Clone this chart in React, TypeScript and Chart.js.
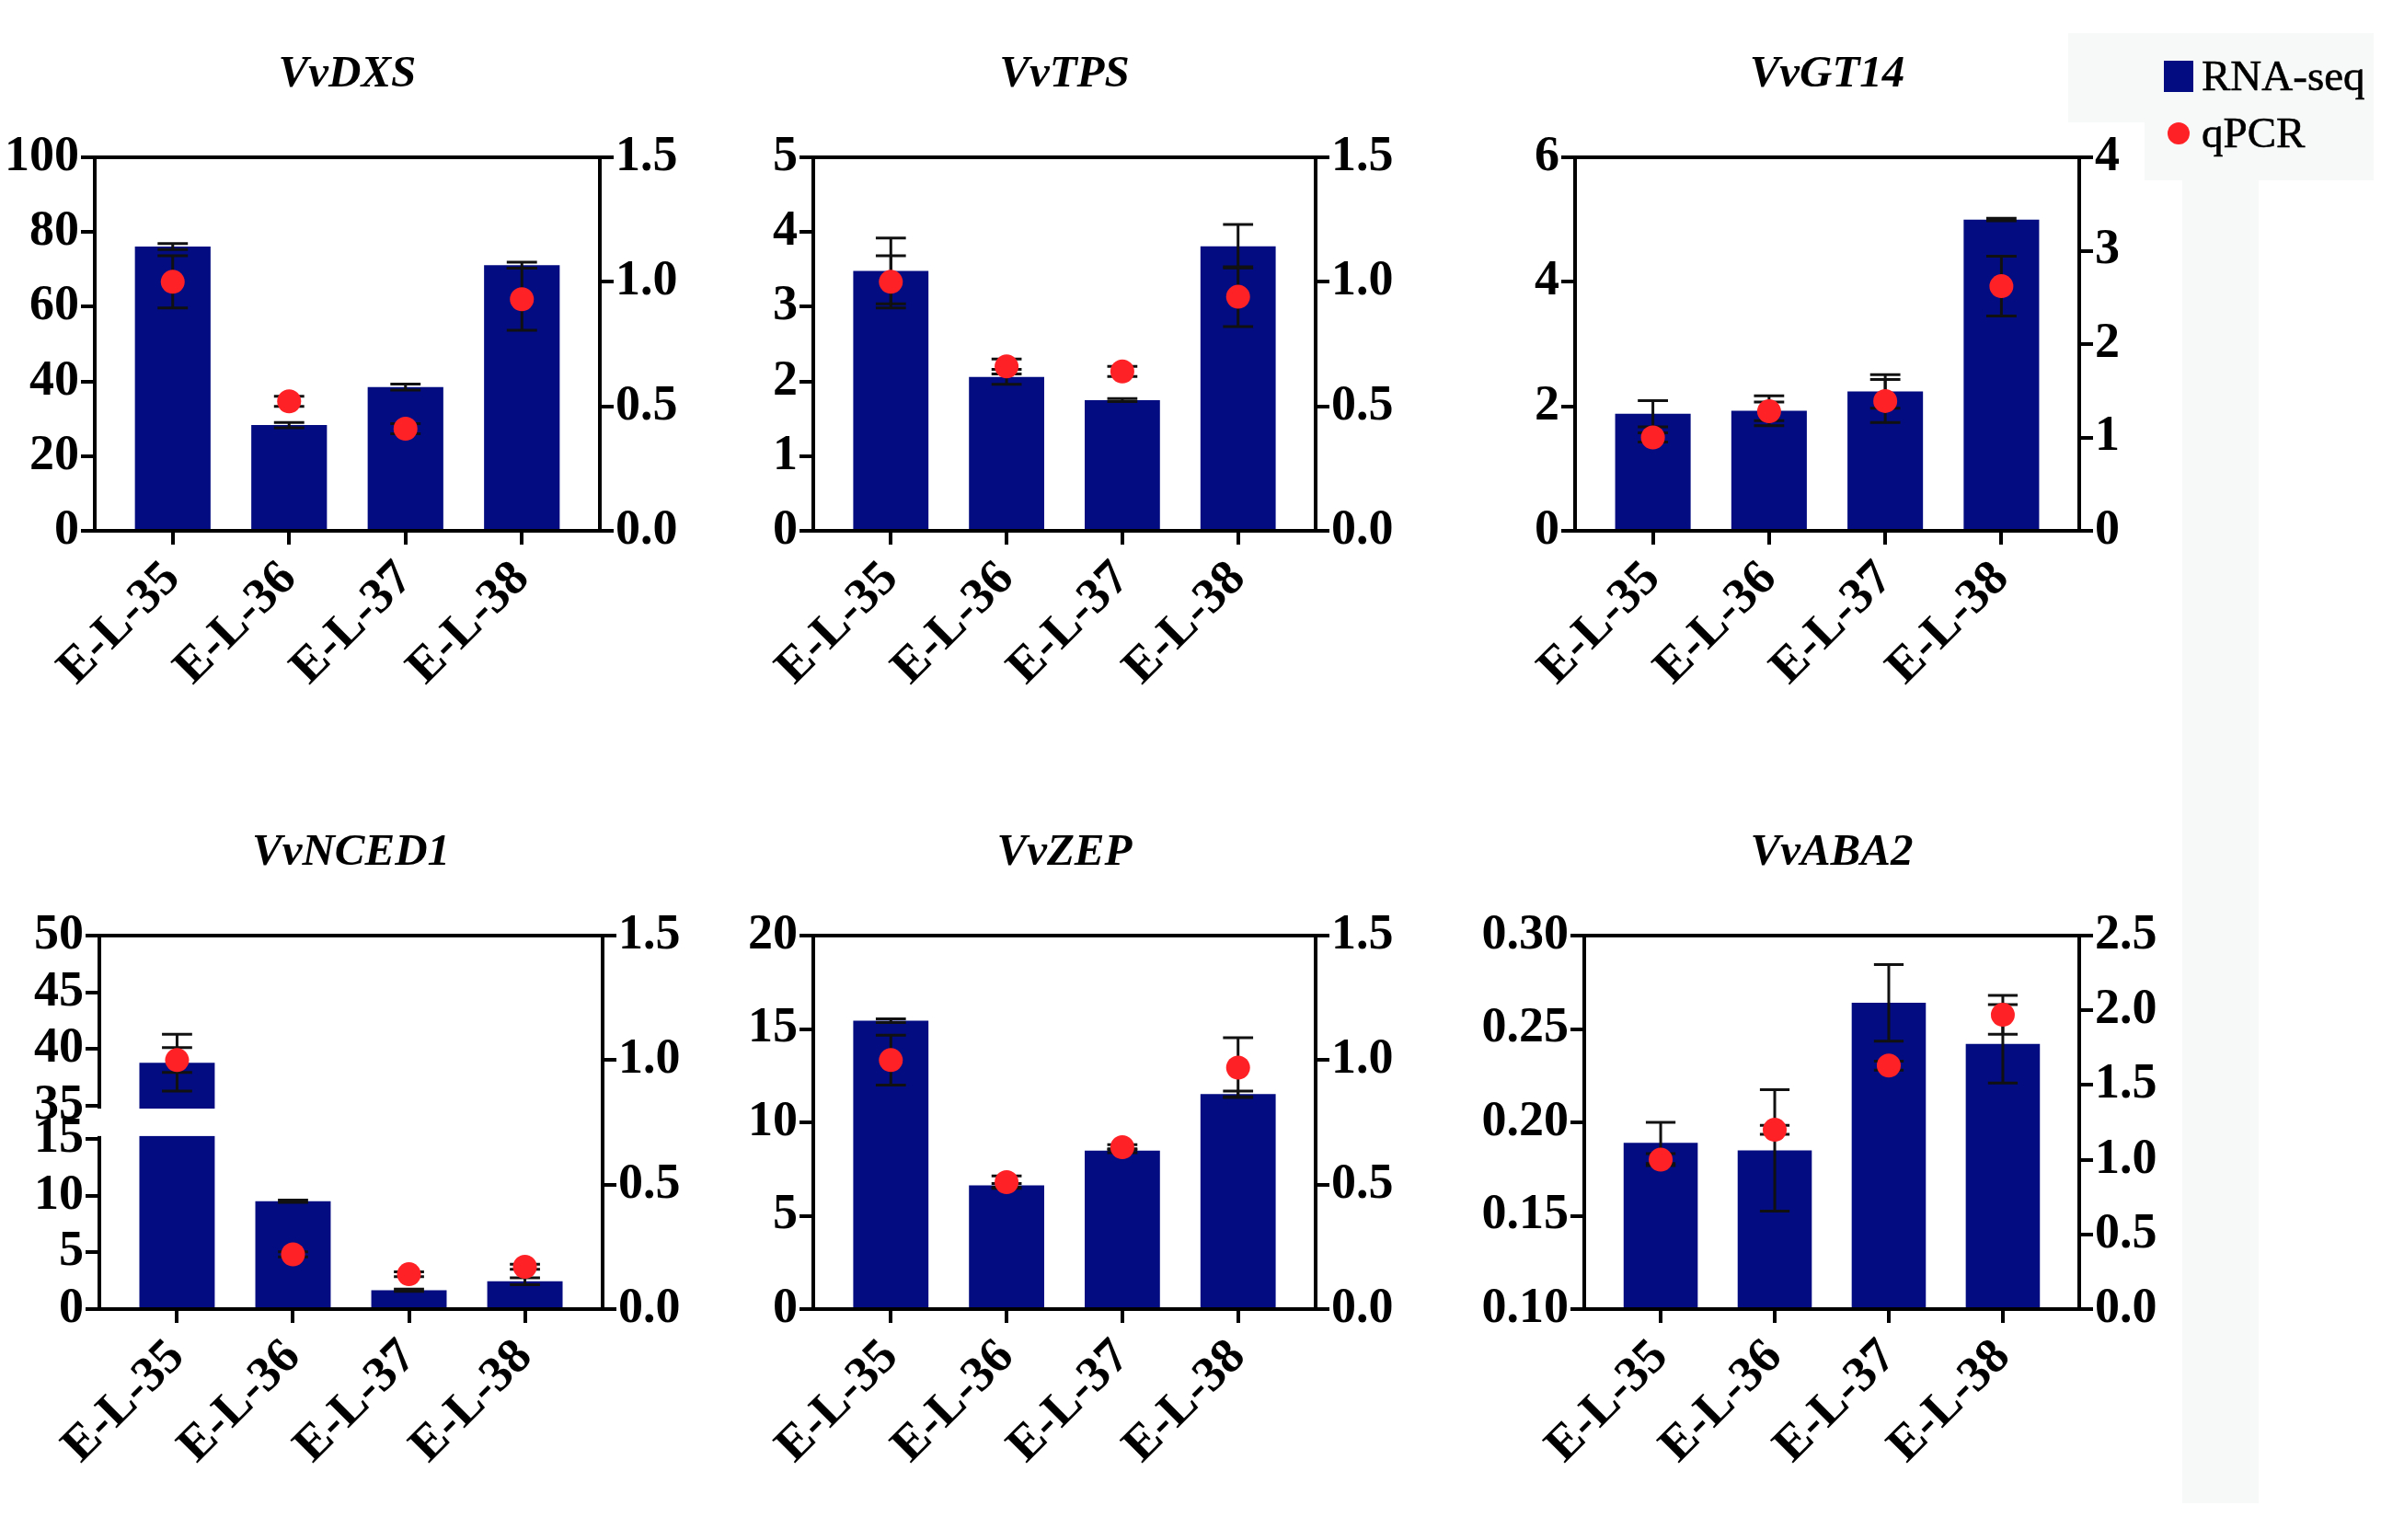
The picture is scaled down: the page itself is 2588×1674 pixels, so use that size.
import React, { useEffect, useRef } from 'react';
import { Chart, registerables } from 'chart.js';

Chart.register(...registerables);

const stages = ['E-L-35', 'E-L-36', 'E-L-37', 'E-L-38'];

// VvDXS
const dxsRna = [76.1, 28.3, 38.5, 71.1];
const dxsRnaSd = [0.8, 0.7, 0.8, 0.8];
const dxsQpcr = [1.0, 0.52, 0.41, 0.93];
const dxsQpcrSd = [0.105, 0.02, 0.02, 0.125];
const dxsLeftTicks = [0, 20, 40, 60, 80, 100];
const dxsRightTicks = [0, 0.5, 1.0, 1.5];

// VvTPS
const tpsRna = [3.48, 2.06, 1.75, 3.81];
const tpsRnaSd = [0.44, 0.1, 0.02, 0.29];
const tpsQpcr = [1.0, 0.66, 0.64, 0.94];
const tpsQpcrSd = [0.105, 0.03, 0.02, 0.12];
const tpsLeftTicks = [0, 1, 2, 3, 4, 5];
const tpsRightTicks = [0, 0.5, 1.0, 1.5];

// VvGT14
const gt14Rna = [1.88, 1.93, 2.24, 5.0];
const gt14RnaSd = [0.21, 0.24, 0.27, 0.02];
const gt14Qpcr = [1.0, 1.28, 1.39, 2.62];
const gt14QpcrSd = [0.05, 0.1, 0.23, 0.32];
const gt14LeftTicks = [0, 2, 4, 6];
const gt14RightTicks = [0, 1, 2, 3, 4];

// VvNCED1 (left axis broken between 15 and 35)
const nced1Rna = [38.8, 9.5, 1.67, 2.45];
const nced1RnaSd = [2.5, 0.1, 0.1, 0.3];
const nced1Qpcr = [1.0, 0.22, 0.14, 0.17];
const nced1QpcrSd = [0.05, 0.01, 0.01, 0.01];
const nced1LeftTicks = [0, 5, 10, 15, 35, 40, 45, 50];
const nced1RightTicks = [0, 0.5, 1.0, 1.5];
const nced1Break = { low: 15, high: 35, gap: 2.9 };

// VvZEP
const zepRna = [15.44, 6.63, 8.48, 11.52];
const zepRnaSd = [0.1, 0.1, 0.1, 0.15];
const zepQpcr = [1.0, 0.51, 0.65, 0.97];
const zepQpcrSd = [0.1, 0.025, 0.01, 0.12];
const zepLeftTicks = [0, 5, 10, 15, 20];
const zepRightTicks = [0, 0.5, 1.0, 1.5];

// VvABA2
const aba2Rna = [0.189, 0.185, 0.264, 0.242];
const aba2RnaSd = [0.011, 0.0325, 0.0205, 0.021];
const aba2Qpcr = [1.0, 1.2, 1.63, 1.97];
const aba2QpcrSd = [0.04, 0.03, 0.03, 0.13];
const aba2LeftTicks = [0.1, 0.15, 0.2, 0.25, 0.3];
const aba2RightTicks = [0, 0.5, 1.0, 1.5, 2.0, 2.5];

const NAVY = '#030c80';
const RED = '#fe2226';
const SERIF = "'Liberation Serif', 'Times New Roman', serif";
const tickFont = { family: SERIF, size: 54, weight: 'bold' as const };

type Brk = { low: number; high: number; gap: number } | null;

const mapValue = (v: number, brk: Brk) => {
    if (!brk) return v;
    if (v <= brk.low) return v;
    if (v >= brk.high) return v - brk.high + brk.low + brk.gap;
    return brk.low + ((v - brk.low) * brk.gap) / (brk.high - brk.low);
};

type PanelProps = {
    title: string;
    rna: number[];
    rnaSd: number[];
    qpcr: number[];
    qpcrSd: number[];
    leftTicks: number[];
    rightTicks: number[];
    leftDigits: number;
    rightDigits: number;
    brk?: Brk;
    left: number;
    right: number;
    top: number;
    bottom: number;
};

const Y_W = 110;
const TITLE_H = 119;
const X_H = 200;

const Panel: React.FC<PanelProps> = (p) => {
    const canvasRef = useRef<HTMLCanvasElement>(null);
    const chartRef = useRef<Chart | null>(null);
    const brk = p.brk || null;

    useEffect(() => {
        if (!canvasRef.current) return;
        if (chartRef.current) chartRef.current.destroy();
        const m = (v: number) => mapValue(v, brk);

        const errorBars = {
            id: 'errorBars',
            afterDatasetDraw(chart: any, args: any) {
                if (args.index !== 0) return;
                const { ctx, chartArea, scales } = chart;
                const x = scales.x, y = scales.y, y2 = scales.y2;
                if (brk) {
                    const yHi = y.getPixelForValue(m(brk.high));
                    const yLo = y.getPixelForValue(m(brk.low));
                    ctx.save();
                    ctx.fillStyle = '#ffffff';
                    ctx.fillRect(chartArea.left - 4, yHi + 3, chartArea.right - chartArea.left + 1, yLo - yHi - 6);
                    ctx.restore();
                }
                const step = x.getPixelForValue(1) - x.getPixelForValue(0);
                const cap = step * 0.13;
                ctx.save();
                ctx.strokeStyle = '#111111';
                ctx.lineWidth = 3;
                const draw = (scale: any, vals: number[], sds: number[], f: (v: number) => number) => {
                    vals.forEach((v, i) => {
                        const px = x.getPixelForValue(i);
                        const t = scale.getPixelForValue(f(v + sds[i]));
                        const b = scale.getPixelForValue(f(v - sds[i]));
                        ctx.beginPath();
                        ctx.moveTo(px, t);
                        ctx.lineTo(px, b);
                        ctx.moveTo(px - cap, t);
                        ctx.lineTo(px + cap, t);
                        ctx.moveTo(px - cap, b);
                        ctx.lineTo(px + cap, b);
                        ctx.stroke();
                    });
                };
                draw(y, p.rna, p.rnaSd, m);
                draw(y2, p.qpcr, p.qpcrSd, (v) => v);
                ctx.restore();
            },
        };

        const tickGrid = {
            display: true,
            drawOnChartArea: false,
            drawTicks: true,
            tickLength: 15,
            color: '#000',
            lineWidth: 4,
            offset: false,
        };
        const border = { display: true, color: '#000', width: 4 };

        chartRef.current = new Chart(canvasRef.current, {
            type: 'bar',
            data: {
                datasets: [
                    {
                        type: 'bar',
                        label: 'RNA-seq',
                        data: p.rna.map((v, i) => ({ x: i, y: m(v) })),
                        backgroundColor: NAVY,
                        borderWidth: 0,
                        barPercentage: 0.65,
                        categoryPercentage: 1,
                        base: m(p.leftTicks[0]),
                        xAxisID: 'x',
                        yAxisID: 'y',
                        order: 1,
                    },
                    {
                        type: 'scatter',
                        label: 'qPCR',
                        data: p.qpcr.map((v, i) => ({ x: i, y: v })),
                        backgroundColor: RED,
                        borderColor: RED,
                        borderWidth: 0,
                        pointRadius: 13,
                        pointHoverRadius: 13,
                        showLine: false,
                        xAxisID: 'x',
                        yAxisID: 'y2',
                        order: 0,
                    },
                ] as any,
            },
            options: {
                responsive: true,
                maintainAspectRatio: false,
                animation: false,
                layout: { padding: 0 },
                plugins: {
                    legend: { display: false },
                    tooltip: { enabled: false },
                    title: {
                        display: true,
                        text: p.title,
                        color: '#000',
                        font: { family: SERIF, size: 49, weight: 'bold', style: 'italic', lineHeight: 1.2 },
                        padding: { top: 0, bottom: TITLE_H - 58.8 },
                    },
                },
                scales: {
                    x: {
                        type: 'linear',
                        position: 'bottom',
                        min: -0.67,
                        max: 3.67,
                        offset: false,
                        afterBuildTicks: (s: any) => {
                            s.ticks = stages.map((_, i) => ({ value: i }));
                        },
                        afterFit: (s: any) => {
                            s.height = X_H;
                            s.paddingLeft = 0;
                            s.paddingRight = 0;
                        },
                        ticks: {
                            font: tickFont,
                            color: '#000',
                            autoSkip: false,
                            minRotation: 45,
                            maxRotation: 45,
                            padding: 6,
                            callback: (_v: any, i: number) => stages[i],
                        },
                        grid: tickGrid,
                        border,
                    },
                    xTop: {
                        type: 'linear',
                        position: 'top',
                        min: -0.67,
                        max: 3.67,
                        offset: false,
                        ticks: { display: false },
                        grid: { display: false, offset: false },
                        border,
                        afterFit: (s: any) => {
                            s.height = 0;
                            s.paddingLeft = 0;
                            s.paddingRight = 0;
                        },
                    },
                    y: {
                        type: 'linear',
                        position: 'left',
                        min: m(p.leftTicks[0]),
                        max: m(p.leftTicks[p.leftTicks.length - 1]),
                        afterBuildTicks: (s: any) => {
                            s.ticks = p.leftTicks.map((v) => ({ value: m(v) }));
                        },
                        afterFit: (s: any) => {
                            s.width = Y_W;
                            s.paddingTop = 0;
                            s.paddingBottom = 0;
                        },
                        ticks: {
                            font: tickFont,
                            color: '#000',
                            autoSkip: false,
                            padding: 2,
                            callback: (_v: any, i: number) => p.leftTicks[i].toFixed(p.leftDigits),
                        },
                        grid: tickGrid,
                        border,
                    },
                    y2: {
                        type: 'linear',
                        position: 'right',
                        min: p.rightTicks[0],
                        max: p.rightTicks[p.rightTicks.length - 1],
                        afterBuildTicks: (s: any) => {
                            s.ticks = p.rightTicks.map((v) => ({ value: v }));
                        },
                        afterFit: (s: any) => {
                            s.width = Y_W;
                            s.paddingTop = 0;
                            s.paddingBottom = 0;
                        },
                        ticks: {
                            font: tickFont,
                            color: '#000',
                            autoSkip: false,
                            padding: 2,
                            callback: (_v: any, i: number) => p.rightTicks[i].toFixed(p.rightDigits),
                        },
                        grid: tickGrid,
                        border,
                    },
                },
            } as any,
            plugins: [errorBars],
        });

        return () => {
            if (chartRef.current) {
                chartRef.current.destroy();
                chartRef.current = null;
            }
        };
    }, []);

    const boxLeft = p.left - Y_W;
    const boxTop = p.top - TITLE_H;
    return (
        <div
            style={{
                position: 'absolute',
                left: boxLeft,
                top: boxTop,
                width: p.right - p.left + 2 * Y_W,
                height: p.bottom - p.top + TITLE_H + X_H,
            }}
        >
            <canvas ref={canvasRef} style={{ display: 'block' }}></canvas>
        </div>
    );
};

const App: React.FC = () => {
    return (
        <div
            style={{
                position: 'absolute',
                left: 0,
                top: 0,
                width: 2588,
                height: 1674,
                background: '#ffffff',
                overflow: 'hidden',
            }}
        >
            {/* faint scan background behind the legend */}
            <div style={{ position: 'absolute', left: 2248, top: 36, width: 332, height: 97, background: '#f7f8f8' }} />
            <div style={{ position: 'absolute', left: 2331, top: 133, width: 249, height: 63, background: '#f7f8f8' }} />
            <div style={{ position: 'absolute', left: 2372, top: 196, width: 83, height: 1438, background: '#f7f8f8' }} />

            <Panel title="VvDXS" rna={dxsRna} rnaSd={dxsRnaSd} qpcr={dxsQpcr} qpcrSd={dxsQpcrSd}
                leftTicks={dxsLeftTicks} rightTicks={dxsRightTicks} leftDigits={0} rightDigits={1}
                left={103} right={652} top={171} bottom={577} />
            <Panel title="VvTPS" rna={tpsRna} rnaSd={tpsRnaSd} qpcr={tpsQpcr} qpcrSd={tpsQpcrSd}
                leftTicks={tpsLeftTicks} rightTicks={tpsRightTicks} leftDigits={0} rightDigits={1}
                left={884} right={1430} top={171} bottom={577} />
            <Panel title="VvGT14" rna={gt14Rna} rnaSd={gt14RnaSd} qpcr={gt14Qpcr} qpcrSd={gt14QpcrSd}
                leftTicks={gt14LeftTicks} rightTicks={gt14RightTicks} leftDigits={0} rightDigits={0}
                left={1712} right={2260} top={171} bottom={577} />
            <Panel title="VvNCED1" rna={nced1Rna} rnaSd={nced1RnaSd} qpcr={nced1Qpcr} qpcrSd={nced1QpcrSd}
                leftTicks={nced1LeftTicks} rightTicks={nced1RightTicks} leftDigits={0} rightDigits={1}
                brk={nced1Break} left={108} right={655} top={1017} bottom={1423} />
            <Panel title="VvZEP" rna={zepRna} rnaSd={zepRnaSd} qpcr={zepQpcr} qpcrSd={zepQpcrSd}
                leftTicks={zepLeftTicks} rightTicks={zepRightTicks} leftDigits={0} rightDigits={1}
                left={884} right={1430} top={1017} bottom={1423} />
            <Panel title="VvABA2" rna={aba2Rna} rnaSd={aba2RnaSd} qpcr={aba2Qpcr} qpcrSd={aba2QpcrSd}
                leftTicks={aba2LeftTicks} rightTicks={aba2RightTicks} leftDigits={2} rightDigits={1}
                left={1722} right={2260} top={1017} bottom={1423} />

            {/* legend */}
            <div style={{ position: 'absolute', left: 2352, top: 66, width: 32, height: 34, background: NAVY }} />
            <div style={{ position: 'absolute', left: 2356, top: 133, width: 24, height: 24, borderRadius: '50%', background: RED }} />
            <div style={{ position: 'absolute', left: 2393, top: 57, height: 50, lineHeight: '50px', fontFamily: SERIF, fontSize: 47, color: '#000', whiteSpace: 'nowrap', WebkitTextStroke: '0.6px #000' }}>RNA-seq</div>
            <div style={{ position: 'absolute', left: 2393, top: 119, height: 50, lineHeight: '50px', fontFamily: SERIF, fontSize: 47, color: '#000', whiteSpace: 'nowrap', WebkitTextStroke: '0.6px #000' }}>qPCR</div>
        </div>
    );
};

export default App;
